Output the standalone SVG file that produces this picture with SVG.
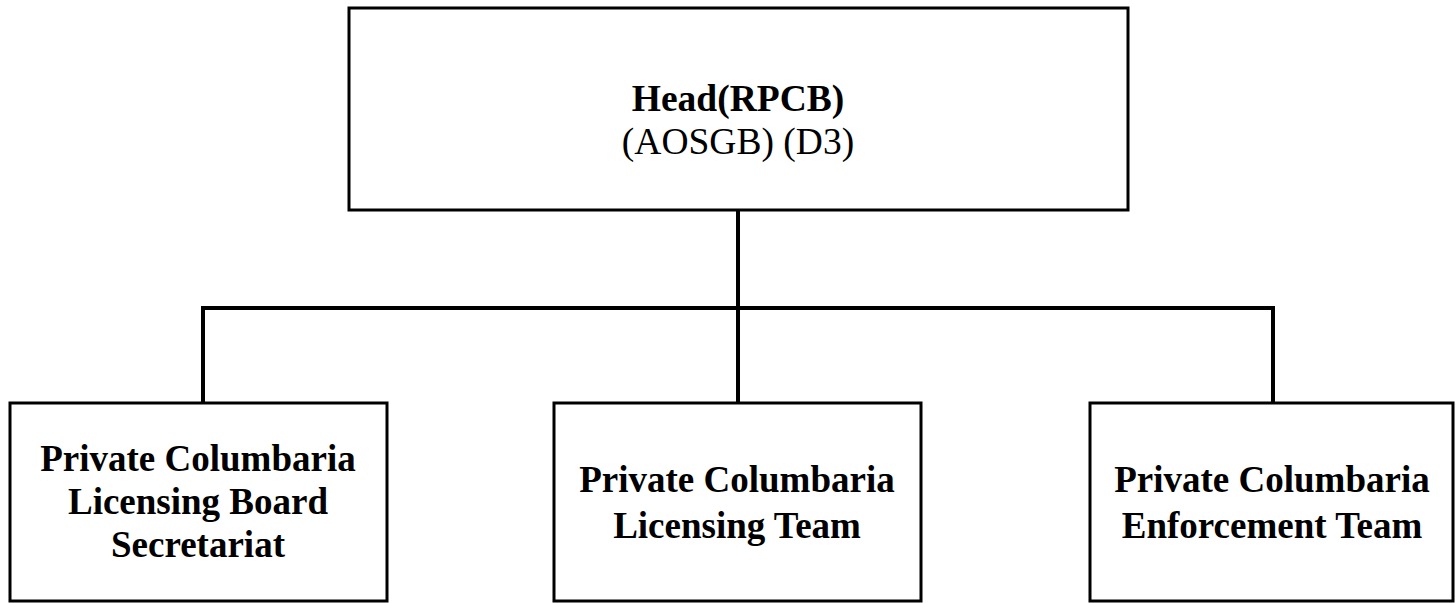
<svg xmlns="http://www.w3.org/2000/svg" width="1456" height="603" viewBox="0 0 1456 603">
<style>
.box{fill:#fff;stroke:#000;stroke-width:3}
.con{fill:none;stroke:#000;stroke-width:4}
.b{font-family:"Liberation Serif",serif;font-weight:bold;font-size:37px;text-anchor:middle;fill:#000}
.r{font-family:"Liberation Serif",serif;font-size:37.5px;text-anchor:middle;fill:#000}
.h{font-size:37.5px}
</style>
<rect width="1456" height="603" fill="#fff"/>
<g id="connectors">
<path class="con" d="M738 210 V308 M203 308 H1273 M203 306 V403 M738 308 V403 M1273 306 V403"/>
</g>
<g id="head">
<rect class="box" x="349" y="8" width="779" height="202"/>
<text class="b h" x="738" y="111">Head(RPCB)</text>
<text class="r" x="738" y="154">(AOSGB) (D3)</text>
</g>
<g id="secretariat">
<rect class="box" x="10" y="403" width="377" height="198"/>
<text class="b" x="198" y="471">Private Columbaria</text>
<text class="b" x="198" y="514">Licensing Board</text>
<text class="b" x="198" y="557">Secretariat</text>
</g>
<g id="licensing">
<rect class="box" x="554" y="403" width="367" height="198"/>
<text class="b" x="737" y="492">Private Columbaria</text>
<text class="b" x="737" y="538">Licensing Team</text>
</g>
<g id="enforcement">
<rect class="box" x="1090" y="403" width="363" height="198"/>
<text class="b" x="1272" y="492">Private Columbaria</text>
<text class="b" x="1272" y="538">Enforcement Team</text>
</g>
</svg>
